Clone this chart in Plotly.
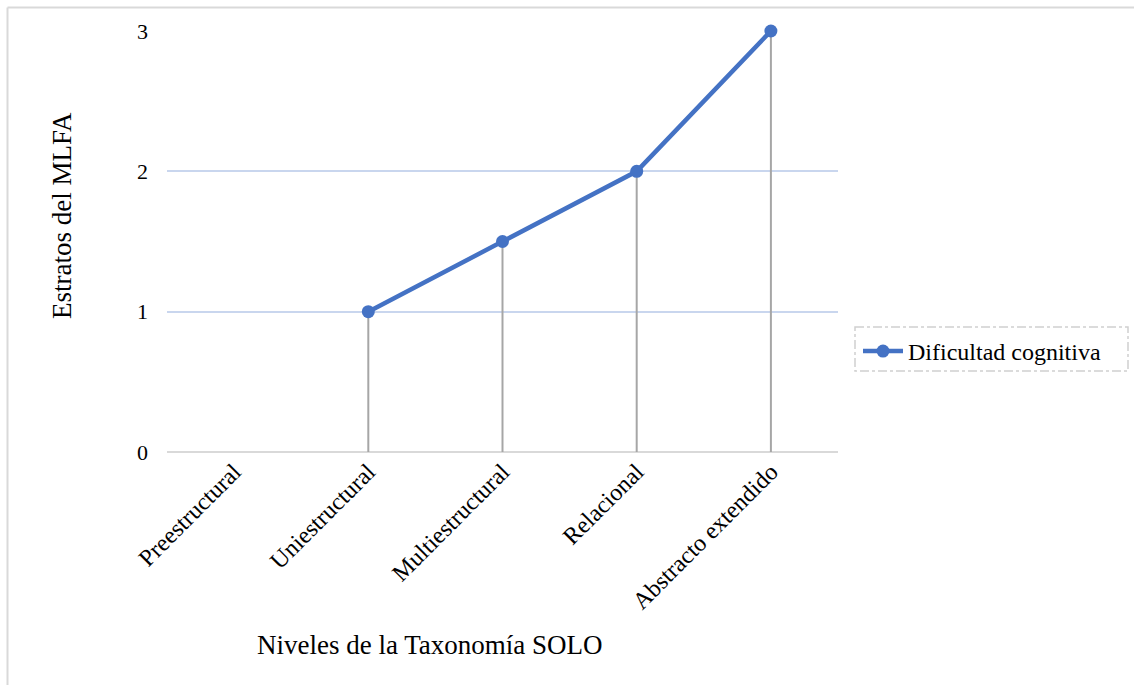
import plotly.graph_objects as go

# Niveles de la taxonomía SOLO y estrato del MLFA asociado
niveles = ["Preestructural", "Uniestructural", "Multiestructural", "Relacional", "Abstracto extendido"]
dificultad = [None, 1, 1.5, 2, 3]
y_ticks = [0, 1, 2, 3]

W, H = 1134, 685
L, R, T, B = 167, 296, 31, 233
pw, ph = W - L - R, H - T - B


def px_x(p):
    return (p - L) / pw


def px_y(p):
    return (H - B - p) / ph


serif = "Liberation Serif, Times New Roman, serif"
blue = "#4472C4"

fig = go.Figure()

# vertical drop lines from each point to the axis
fig.add_trace(go.Scatter(
    x=niveles, y=dificultad, mode="markers",
    marker=dict(size=1, color="rgba(0,0,0,0)"),
    error_y=dict(type="data", symmetric=False,
                 array=[0] * len(dificultad),
                 arrayminus=[v if v is not None else 0 for v in dificultad],
                 color="#A6A6A6", thickness=2, width=0),
    showlegend=False, hoverinfo="skip", cliponaxis=False,
))

fig.add_trace(go.Scatter(
    x=niveles, y=dificultad, mode="lines+markers",
    name="Dificultad cognitiva",
    line=dict(color=blue, width=4.5),
    marker=dict(color=blue, size=13),
    connectgaps=False, cliponaxis=False,
))

fig.update_layout(
    width=W, height=H,
    margin=dict(l=L, r=R, t=T, b=B, autoexpand=False),
    paper_bgcolor="white", plot_bgcolor="white",
    font=dict(family=serif, size=22, color="#000000"),
    showlegend=True,
    legend=dict(x=px_x(858), y=px_y(329), xanchor="left", yanchor="top",
                bgcolor="rgba(0,0,0,0)", borderwidth=0,
                font=dict(family=serif, size=24, color="#000000"),
                itemwidth=40),
    xaxis=dict(
        type="category", range=[-0.5, 4.5],
        tickangle=-45, tickfont=dict(family=serif, size=24),
        showgrid=False, showline=False, ticks="", zeroline=False,
        fixedrange=True,
    ),
    yaxis=dict(
        range=[0, 3], tickvals=y_ticks, ticktext=[str(v) for v in y_ticks],
        showgrid=True, gridcolor="#C9D6EE", gridwidth=1.5,
        zeroline=True, zerolinecolor="#D9D9D9", zerolinewidth=2,
        showline=False, ticks="", ticklabelstandoff=18,
        tickfont=dict(family=serif, size=22),
        fixedrange=True,
    ),
    annotations=[
        dict(text="Niveles de la Taxonomía SOLO", xref="paper", yref="paper",
             x=px_x(430), y=px_y(645), xanchor="center", yanchor="middle",
             showarrow=False, font=dict(family=serif, size=27)),
        dict(text="Estratos del MLFA", xref="paper", yref="paper",
             x=px_x(62), y=px_y(216), xanchor="center", yanchor="middle",
             textangle=-90, showarrow=False, font=dict(family=serif, size=27)),
    ],
    shapes=[
        # outer chart frame (top and left edges)
        dict(type="line", xref="paper", yref="paper",
             x0=px_x(7.5), x1=px_x(W + 5), y0=px_y(7.5), y1=px_y(7.5),
             line=dict(color="#D9D9D9", width=2)),
        dict(type="line", xref="paper", yref="paper",
             x0=px_x(7.5), x1=px_x(7.5), y0=px_y(7.5), y1=px_y(H + 5),
             line=dict(color="#D9D9D9", width=2)),
        # legend frame
        dict(type="rect", xref="paper", yref="paper",
             x0=px_x(855), x1=px_x(1128), y0=px_y(327), y1=px_y(371),
             line=dict(color="#D0D0D0", width=1.5, dash="dashdot")),
    ],
)

fig.write_html("out.html")
